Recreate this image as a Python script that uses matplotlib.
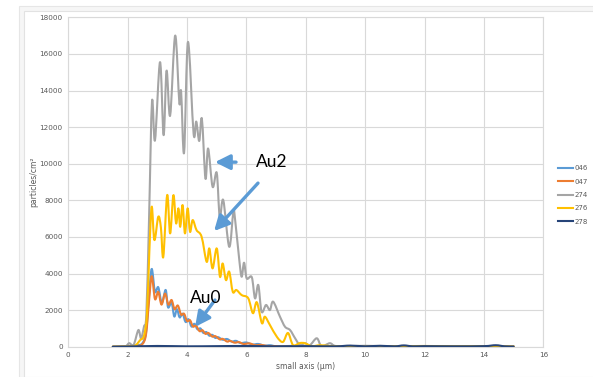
import numpy as np
import matplotlib
matplotlib.use("Agg")
import matplotlib.pyplot as plt
from matplotlib.path import Path
from matplotlib.patches import PathPatch, Rectangle
from matplotlib.lines import Line2D

# ---- series data: small axis (um) vs particles/cm2 ----
x_046 = [1.5, 1.8, 2.0, 2.2, 2.35, 2.5, 2.62, 2.72, 2.81, 2.92, 3.03, 3.15, 3.28, 3.36, 3.48,
         3.57, 3.66, 3.75, 3.85, 3.95, 4.05, 4.15, 4.25, 4.35, 4.45, 4.55, 4.65, 4.75, 4.85,
         4.95, 5.05, 5.2, 5.35, 5.5, 5.65, 5.8, 6.0, 6.2, 6.4, 6.6, 6.8, 7.0, 7.5, 8.0, 15.0]
y_046 = [0, 20, 10, 40, 80, 200, 800, 2800, 4250, 3000, 3250, 2400, 3100, 2150, 2400,
         1650, 2050, 1600, 1800, 1350, 1500, 1100, 1250, 950, 1000, 750, 800, 600, 650,
         480, 520, 380, 420, 280, 320, 200, 230, 120, 150, 60, 80, 30, 40, 20, 10]

x_047 = [1.5, 2.0, 2.3, 2.5, 2.62, 2.72, 2.81, 2.92, 3.03, 3.14, 3.26, 3.37, 3.48, 3.58,
         3.69, 3.80, 3.90, 4.0, 4.1, 4.2, 4.3, 4.42, 4.52, 4.62, 4.72, 4.85, 4.95, 5.1,
         5.2, 5.35, 5.45, 5.6, 5.75, 5.9, 6.1, 6.3, 6.5, 6.7, 7.0, 7.5, 15.0]
y_047 = [0, 10, 30, 150, 700, 2500, 3850, 2600, 3000, 2300, 2900, 2300, 2550, 2050,
         2250, 1750, 1800, 1400, 1450, 1100, 1150, 850, 900, 700, 750, 550, 580, 400,
         430, 280, 320, 220, 250, 150, 180, 80, 100, 40, 30, 10, 10]

x_274 = [1.5, 1.9, 2.05, 2.2, 2.36, 2.45, 2.55, 2.63, 2.72, 2.82, 2.92, 3.09, 3.21, 3.31,
         3.43, 3.60, 3.74, 3.80, 3.90, 4.03, 4.22, 4.31, 4.41, 4.50, 4.62, 4.71, 4.86,
         5.00, 5.10, 5.22, 5.42, 5.56, 5.62, 5.76, 5.84, 5.92, 6.01, 6.18, 6.29, 6.40,
         6.51, 6.66, 6.79, 6.90, 7.13, 7.30, 7.47, 7.64, 7.80, 7.97, 8.14, 8.37, 8.53,
         8.81, 9.0, 9.5, 10.0, 11.0, 12.0, 13.0, 14.0, 15.0]
y_274 = [0, 0, 190, 100, 910, 460, 1100, 1800, 7000, 13400, 11280, 15550, 11560, 15080,
         12630, 17000, 13330, 13950, 10600, 16650, 11650, 12300, 11240, 12450, 9190, 10830,
         8740, 9500, 7100, 8010, 5460, 7370, 6920, 4730, 3820, 4590, 3730, 3800, 2640, 3370,
         1910, 2280, 2000, 2460, 1640, 1090, 910, 460, 90, 190, 90, 460, 30,
         190, 40, 30, 50, 20, 30, 20, 30, 10]

x_276 = [1.5, 2.0, 2.25, 2.42, 2.55, 2.65, 2.73, 2.81, 2.90, 3.03, 3.12, 3.20, 3.33, 3.43,
         3.54, 3.63, 3.71, 3.77, 3.85, 3.93, 4.02, 4.10, 4.19, 4.32, 4.49, 4.66, 4.75,
         4.86, 5.00, 5.11, 5.20, 5.31, 5.42, 5.54, 5.66, 5.84, 6.06, 6.22, 6.35, 6.52,
         6.62, 6.79, 7.03, 7.23, 7.40, 7.57, 7.80, 7.97, 8.2, 8.5, 9.0, 10.0, 12.0, 13.0,
         14.0, 15.0]
y_276 = [0, 10, 60, 360, 600, 1800, 5200, 7650, 5830, 7100, 6500, 4910, 8280, 6190,
         8280, 6740, 7560, 6550, 7740, 6190, 7560, 6280, 6920, 6370, 6010, 4640, 5370,
         4280, 5370, 3820, 4550, 3640, 4100, 3000, 3100, 2820, 2650, 1830, 2430, 1290,
         1640, 1190, 530, 260, 750, 90, 200, 190, 30, 80, 20, 10, 40, 20,
         30, 10]

x_278 = [1.5, 2.0, 3.0, 4.0, 5.0, 6.0, 7.0, 8.0, 9.0, 9.5, 10.0, 10.5, 11.0, 11.3, 11.6,
         12.0, 13.0, 14.0, 14.4, 14.7, 15.0]
y_278 = [0, 10, 40, 20, 30, 40, 20, 30, 20, 60, 20, 50, 20, 70, 20,
         30, 20, 30, 80, 20, 10]

series = [
    ("046", x_046, y_046, "#5B9BD5"),
    ("047", x_047, y_047, "#ED7D31"),
    ("274", x_274, y_274, "#A5A5A5"),
    ("276", x_276, y_276, "#FFC000"),
    ("278", x_278, y_278, "#264478"),
]

x_ticks = [0, 2, 4, 6, 8, 10, 12, 14, 16]
y_ticks = [0, 2000, 4000, 6000, 8000, 10000, 12000, 14000, 16000, 18000]

TXT = "#595959"
GRID = "#D9D9D9"


def smooth_path(xs, ys):
    """Smoothed line through the points as cubic Bezier segments (Catmull-Rom)."""
    pts = np.column_stack([xs, ys]).astype(float)
    n = len(pts)
    verts = [pts[0]]
    codes = [Path.MOVETO]
    for i in range(n - 1):
        p0 = pts[i - 1] if i > 0 else pts[i]
        p1 = pts[i]
        p2 = pts[i + 1]
        p3 = pts[i + 2] if i + 2 < n else pts[i + 1]
        c1 = p1 + (p2 - p0) / 6.0
        c2 = p2 - (p3 - p1) / 6.0
        verts += [c1, c2, p2]
        codes += [Path.CURVE4] * 3
    return Path(verts, codes)


fig = plt.figure(figsize=(5.93, 3.77), dpi=100)

# chart frame
fig.patches.append(Rectangle((19 / 593, 0), 1, 1 - 6 / 377, transform=fig.transFigure,
                             facecolor="#F6F6F6", edgecolor="#E6E6E6", lw=0.8, zorder=-10))
fig.patches.append(Rectangle((23.5 / 593, 0), 1, 1 - 10.5 / 377, transform=fig.transFigure,
                             facecolor="white", edgecolor="#E2E2E2", lw=0.8, zorder=-9))

ax = fig.add_axes([68.3 / 593, 1 - 346.7 / 377, 475 / 593, 329.4 / 377])
ax.set_facecolor("none")
ax.set_xlim(0, 16)
ax.set_ylim(0, 18000)
ax.set_xticks(x_ticks)
ax.set_yticks(y_ticks)
ax.set_xticklabels([str(v) for v in x_ticks])
ax.set_yticklabels([str(v) for v in y_ticks])
ax.grid(True, color=GRID, lw=0.8)
ax.set_axisbelow(True)
for s in ax.spines.values():
    s.set_color(GRID)
    s.set_linewidth(0.8)
ax.tick_params(length=0, labelsize=5.2, colors=TXT, pad=4)

handles = []
for i, (name, xs, ys, col) in enumerate(series):
    patch = PathPatch(smooth_path(xs, ys), facecolor="none", edgecolor=col, lw=1.5,
                      capstyle="round", joinstyle="round", zorder=3 + i)
    ax.add_patch(patch)
    handles.append(Line2D([], [], color=col, lw=1.5, label=name))

ax.set_xlabel("small axis (\u00b5m)", fontsize=5.5, color=TXT, labelpad=3)
ax.set_ylabel("particles/cm\u00b2", fontsize=5.5, color=TXT, labelpad=1)

fig.legend(handles=handles, loc="center left", bbox_to_anchor=(558 / 593, 1 - 195 / 377),
           frameon=False, fontsize=5.0, handlelength=2.2, handletextpad=0.15,
           borderpad=0.0, borderaxespad=0.0, labelspacing=1.05, labelcolor=TXT)

# annotations
arrow_kw = dict(arrowstyle="-|>,head_length=0.9,head_width=0.45", color="#5B9BD5", lw=2.4,
                shrinkA=0, shrinkB=0)
ax.annotate("", xy=(4.94, 10085), xytext=(5.65, 10085), arrowprops=arrow_kw, zorder=10)
ax.annotate("", xy=(4.91, 6320), xytext=(6.39, 8940), arrowprops=arrow_kw, zorder=10)
ax.annotate("", xy=(4.27, 1080), xytext=(4.94, 2550), arrowprops=arrow_kw, zorder=10)
ax.text(6.86, 10085, "Au2", fontsize=12.5, family=["Lato", "DejaVu Sans"], color="black",
        ha="center", va="center", zorder=11)
ax.text(4.64, 2660, "Au0", fontsize=12.5, family=["Lato", "DejaVu Sans"], color="black",
        ha="center", va="center", zorder=11)

fig.savefig("out.png", dpi=100)
